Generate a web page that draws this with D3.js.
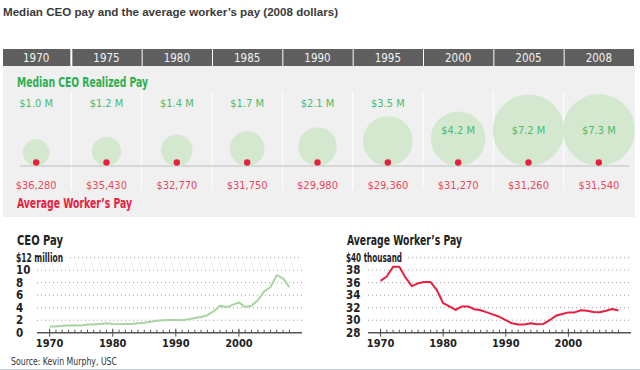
<!DOCTYPE html>
<html>
<head>
<meta charset="utf-8">
<script src="https://cdn.jsdelivr.net/npm/d3@7"></script>
<style>
  body { margin: 0; background: #fff; }
  svg { display: block; }
  .cond { font-family: "DejaVu Sans Condensed", "Liberation Sans Narrow", "Roboto", sans-serif; }
  .title { font-family: "Liberation Sans", Arial, sans-serif; font-weight: bold; font-size: 11.6px; fill: #3a3a3a; }
</style>
</head>
<body>
<svg id="chart" width="640" height="370"></svg>
<script>
// snapshot years
const years = ['1970', '1975', '1980', '1985', '1990', '1995', '2000', '2005', '2008'];
// median CEO realized pay, $ millions
const ceoPay = [1.0, 1.2, 1.4, 1.7, 2.1, 3.5, 4.2, 7.2, 7.3];
// average worker's pay, $
const workerPay = [36280, 35430, 32770, 31750, 29980, 29360, 31270, 31260, 31540];

// yearly series for the small line charts
const seriesYears = [
  1970, 1971, 1972, 1973, 1974, 1975, 1976, 1977, 1978, 1979,
  1980, 1981, 1982, 1983, 1984, 1985, 1986, 1987, 1988, 1989,
  1990, 1991, 1992, 1993, 1994, 1995, 1996, 1997, 1998, 1999,
  2000, 2001, 2002, 2003, 2004, 2005, 2006, 2007, 2008
];
const ceoSeries = [
  1.0, 1.0, 1.1, 1.15, 1.2, 1.15, 1.3, 1.3, 1.4, 1.5,
  1.4, 1.35, 1.4, 1.4, 1.5, 1.6, 1.75, 1.9, 2.0, 2.05,
  2.05, 2.0, 2.15, 2.35, 2.5, 2.8, 3.4, 4.3, 4.1, 4.45,
  4.85, 4.1, 4.3, 5.2, 6.6, 7.3, 9.2, 8.7, 7.3
];
const workerSeries = [
  36.3, 37.0, 38.55, 38.55, 36.8, 35.45, 35.9, 36.1, 36.1, 34.8,
  32.75, 32.2, 31.65, 32.2, 32.2, 31.75, 31.6, 31.25, 30.9, 30.55,
  30.0, 29.5, 29.3, 29.3, 29.5, 29.36, 29.4, 30.0, 30.7, 31.0,
  31.25, 31.25, 31.6, 31.5, 31.3, 31.26, 31.5, 31.8, 31.54
];
const ceoTicks = [0, 2, 4, 6, 8, 10, 12];
const workerTicks = [28, 30, 32, 34, 36, 38, 40];
const decadeTicks = [1970, 1980, 1990, 2000];

const green = '#2eae52';
const greenLight = '#4dbb6c';
const red = '#e8203f';
const redLight = '#ea4762';

var svg = d3.select('svg#chart');

svg.append('text')
  .attr('class', 'title')
  .attr('x', 3)
  .attr('y', 16)
  .text('Median CEO pay and the average worker\u2019s pay (2008 dollars)');

// ---- top panel ----
var x = d3.scaleBand().domain(years).range([1, 634]);
var r = d3.scaleSqrt().domain([0, 7.3]).range([0, 36]);
var fmtM = d => `$${d3.format('.1f')(d)} M`;
var fmtW = d3.format('$,');

var header = svg.append('g').attr('class', 'header');
header.selectAll('rect')
  .data(years)
  .enter()
  .append('rect')
  .attr('x', (d, i) => (i === 0 ? 3 : x(d) + 1))
  .attr('y', 49)
  .attr('width', (d, i) => (i === 0 ? x.bandwidth() - 3 : x.bandwidth() - 1))
  .attr('height', 17)
  .style('fill', '#5f5f5f');
header.selectAll('text')
  .data(years)
  .enter()
  .append('text')
  .attr('class', 'cond')
  .attr('x', d => x(d) + x.bandwidth() / 2)
  .attr('y', 61.5)
  .attr('text-anchor', 'middle')
  .style('font-size', '11.5px')
  .style('fill', '#f2f2f2')
  .text(d => d);

var panel = svg.append('g').attr('class', 'panel');
panel.append('rect')
  .attr('x', 3)
  .attr('y', 66)
  .attr('width', 632)
  .attr('height', 151)
  .style('fill', '#eff0ef');

panel.selectAll('line.sep')
  .data(years.slice(1))
  .enter()
  .append('line')
  .attr('class', 'sep')
  .attr('x1', d => x(d))
  .attr('x2', d => x(d))
  .attr('y1', 91)
  .attr('y2', 190)
  .style('stroke', '#ffffff')
  .style('stroke-width', 1);

panel.append('line')
  .attr('x1', 20)
  .attr('x2', 629)
  .attr('y1', 166)
  .attr('y2', 166)
  .style('stroke', '#d6d7d6')
  .style('stroke-width', 2);

var cols = years.map((y, i) => ({ year: y, ceo: ceoPay[i], worker: workerPay[i] }));

var col = panel.selectAll('g.col')
  .data(cols)
  .enter()
  .append('g')
  .attr('class', 'col')
  .attr('transform', d => `translate(${x(d.year) + x.bandwidth() / 2},0)`);

col.append('circle')
  .attr('cx', 0)
  .attr('cy', d => 166 - r(d.ceo))
  .attr('r', d => r(d.ceo))
  .style('fill', '#d3e8cf');

col.append('circle')
  .attr('cx', 0)
  .attr('cy', 162.5)
  .attr('r', 3.2)
  .style('fill', red);

col.append('text')
  .attr('class', 'cond')
  .attr('y', d => (r(d.ceo) > 26 ? 134 : 107))
  .attr('text-anchor', 'middle')
  .style('font-size', '11px')
  .style('fill', greenLight)
  .text(d => fmtM(d.ceo));

col.append('text')
  .attr('class', 'cond')
  .attr('y', 188.5)
  .attr('text-anchor', 'middle')
  .style('font-size', '11px')
  .style('fill', redLight)
  .text(d => fmtW(d.worker));

panel.append('text')
  .attr('class', 'cond')
  .attr('x', 17)
  .attr('y', 86.5)
  .attr('textLength', 131)
  .attr('lengthAdjust', 'spacingAndGlyphs')
  .style('font-size', '13.5px')
  .style('font-weight', 'bold')
  .style('fill', green)
  .text('Median CEO Realized Pay');

panel.append('text')
  .attr('class', 'cond')
  .attr('x', 17)
  .attr('y', 207.5)
  .attr('textLength', 115)
  .attr('lengthAdjust', 'spacingAndGlyphs')
  .style('font-size', '13.5px')
  .style('font-weight', 'bold')
  .style('fill', red)
  .text('Average Worker\u2019s Pay');

// ---- small line charts ----
function lineChart(opts) {
  var g = svg.append('g').attr('class', 'mini');
  var xs = d3.scaleLinear().domain([1968, 2010]).range([opts.left, opts.right]);
  var ys = d3.scaleLinear().domain(opts.domain).range([332.7, 257.7]);

  g.append('text')
    .attr('class', 'cond')
    .attr('x', opts.labelX + 1)
    .attr('y', 244.5)
    .attr('textLength', opts.titleWidth)
    .attr('lengthAdjust', 'spacingAndGlyphs')
    .style('font-size', '13.5px')
    .style('font-weight', 'bold')
    .style('fill', '#222')
    .text(opts.title);

  var top = opts.ticks[opts.ticks.length - 1];

  // dotted gridlines
  g.selectAll('line.grid')
    .data(opts.ticks.slice(1))
    .enter()
    .append('line')
    .attr('class', 'grid')
    .attr('x1', d => (d === top ? opts.topGridStart : opts.left))
    .attr('x2', opts.right)
    .attr('y1', d => ys(d))
    .attr('y2', d => ys(d))
    .style('stroke', '#9a9a9a')
    .style('stroke-width', 1)
    .style('stroke-dasharray', '1,3');

  g.selectAll('text.ytick')
    .data(opts.ticks)
    .enter()
    .append('text')
    .attr('class', 'cond ytick')
    .attr('x', opts.labelX)
    .attr('y', d => ys(d))
    .attr('dy', '0.36em')
    .attr('textLength', d => (d === top ? opts.topLabelWidth : null))
    .attr('lengthAdjust', 'spacingAndGlyphs')
    .style('font-size', '11.5px')
    .style('font-weight', 'bold')
    .style('fill', '#222')
    .text(d => (d === top ? opts.topLabel : d));

  // axis with yearly ticks
  var axis = g.append('g').attr('transform', 'translate(0,332.7)');
  axis.append('line')
    .attr('x1', opts.left)
    .attr('x2', opts.right)
    .style('stroke', '#555')
    .style('stroke-width', 1.5);
  axis.selectAll('line.minor')
    .data(seriesYears)
    .enter()
    .append('line')
    .attr('class', 'minor')
    .attr('x1', d => xs(d))
    .attr('x2', d => xs(d))
    .attr('y1', -3)
    .attr('y2', 0)
    .style('stroke', '#555');
  axis.selectAll('line.major')
    .data(decadeTicks)
    .enter()
    .append('line')
    .attr('class', 'major')
    .attr('x1', d => xs(d))
    .attr('x2', d => xs(d))
    .attr('y1', -4)
    .attr('y2', 4)
    .style('stroke', '#555');
  axis.selectAll('text')
    .data(decadeTicks)
    .enter()
    .append('text')
    .attr('class', 'cond')
    .attr('x', d => xs(d))
    .attr('y', 14.5)
    .attr('text-anchor', 'middle')
    .style('font-size', '11px')
    .style('font-weight', 'bold')
    .style('fill', '#222')
    .text(d => d);

  var line = d3.line()
    .x((d, i) => xs(seriesYears[i]))
    .y(d => ys(d));

  g.append('path')
    .datum(opts.values)
    .attr('d', line)
    .style('fill', 'none')
    .style('stroke', opts.color)
    .style('stroke-width', 2)
    .style('stroke-linejoin', 'round');
}

lineChart({
  title: 'CEO Pay',
  titleWidth: 46,
  labelX: 16,
  left: 37,
  right: 302,
  topGridStart: 70,
  domain: [0, 12],
  ticks: ceoTicks,
  topLabel: '$12 million',
  topLabelWidth: 47,
  values: ceoSeries,
  color: '#a9d5a1'
});

lineChart({
  title: 'Average Worker\u2019s Pay',
  titleWidth: 115,
  labelX: 346,
  left: 368,
  right: 631,
  topGridStart: 408,
  domain: [28, 40],
  ticks: workerTicks,
  topLabel: '$40 thousand',
  topLabelWidth: 56,
  values: workerSeries,
  color: red
});

svg.append('text')
  .attr('class', 'cond')
  .attr('x', 11)
  .attr('y', 364.5)
  .attr('textLength', 106)
  .attr('lengthAdjust', 'spacingAndGlyphs')
  .style('font-size', '10.5px')
  .style('fill', '#333')
  .text('Source: Kevin Murphy, USC');

svg.append('line')
  .attr('x1', 0)
  .attr('x2', 640)
  .attr('y1', 369.5)
  .attr('y2', 369.5)
  .style('stroke', '#ccd2da')
  .style('stroke-width', 1);
</script>
</body>
</html>
